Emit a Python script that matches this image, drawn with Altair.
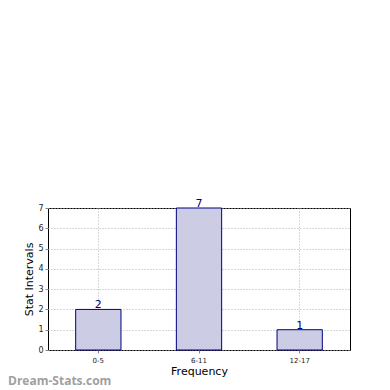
import altair as alt
import pandas as pd

categories = ["0-5", "6-11", "12-17"]
values = [2, 7, 1]
y_ticks = [0, 1, 2, 3, 4, 5, 6, 7]

df = pd.DataFrame({"cat": categories, "val": values})

xenc = alt.X("cat:N", sort=categories, title="Frequency",
             scale=alt.Scale(paddingInner=0.55, paddingOuter=0.275),
             axis=alt.Axis(labelAngle=0, labelFontSize=7, titleFontSize=11, titleFontWeight="normal",
                           grid=True, gridDash=[1, 2], gridColor="#b0b0b0", tickSize=3, tickColor="#888888",
                           domain=False, labelColor="#222222", titleColor="black", titlePadding=2,
                           labelPadding=3, labelFont="DejaVu Sans", titleFont="DejaVu Sans"))
yenc = alt.Y("val:Q", title="Stat Intervals",
             scale=alt.Scale(domain=[0, 7], nice=False),
             axis=alt.Axis(values=y_ticks, tickCount=8, labelOverlap=False, labelFontSize=8,
                           titleFontSize=11, titleFontWeight="normal", format="d",
                           grid=True, gridDash=[1, 2], gridColor="#b0b0b0", tickSize=3, tickColor="#888888",
                           domain=False, labelColor="#222222", titleColor="black", titlePadding=3,
                           labelPadding=2, labelFont="DejaVu Sans", titleFont="DejaVu Sans"))

base = alt.Chart(df).encode(x=xenc, y=yenc)
bars = base.mark_bar(color="#ccccE5", stroke="#000080", strokeWidth=1)
labels = base.mark_text(color="#000080", fontSize=11, dy=-4, font="DejaVu Sans").encode(text="val:Q")
wm = alt.Chart(df.head(1)).mark_text(text="Dream-Stats.com", color="#a0a0a0", fontSize=12,
                                    fontWeight="bold", align="left", baseline="alphabetic",
                                    font="Open Sans").encode(x=alt.value(-40), y=alt.value(177))

chart = alt.layer(bars, labels, wm).properties(
    width=302, height=142, autosize="none", background="white",
    padding={"left": 40, "top": 200, "right": 32, "bottom": 40}
).configure_view(stroke="black", strokeWidth=1)

chart.save("out.html", embed_options={"renderer": "svg", "actions": False})
